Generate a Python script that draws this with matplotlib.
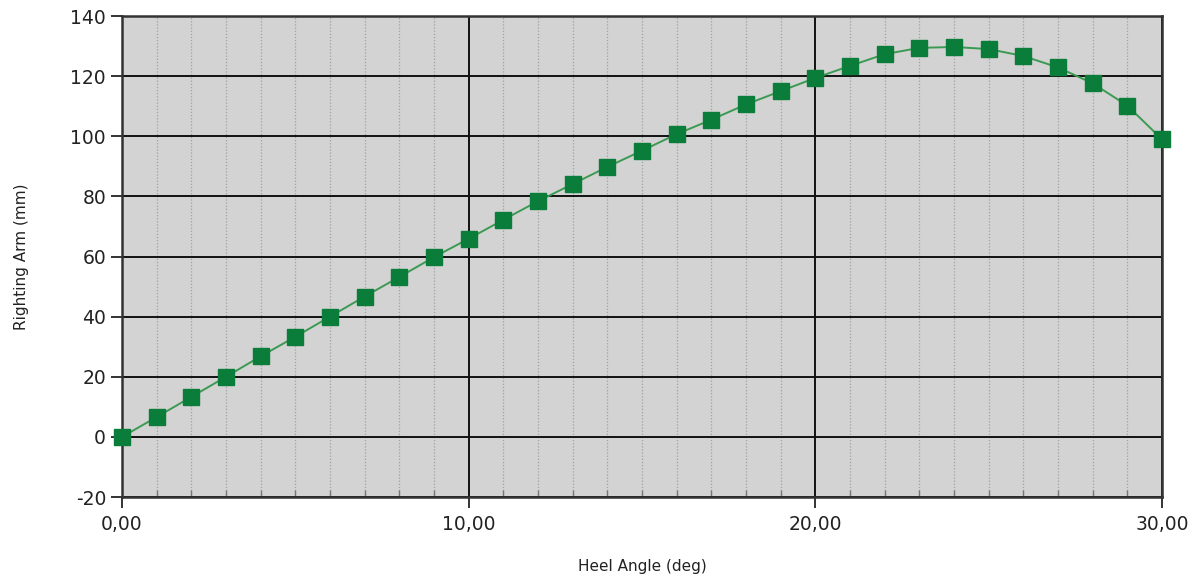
import matplotlib
matplotlib.use("Agg")
import matplotlib.pyplot as plt
from matplotlib.ticker import MultipleLocator, FuncFormatter

plt.rcParams["axes.unicode_minus"] = False

heel_angle = [0, 1, 2, 3, 4, 5, 6, 7, 8, 9, 10, 11, 12, 13, 14, 15, 16, 17, 18, 19, 20,
              21, 22, 23, 24, 25, 26, 27, 28, 29, 30]
righting_arm = [0.0, 6.6, 13.3, 20.0, 26.8, 33.3, 40.0, 46.7, 53.2, 59.8, 65.9, 72.2,
                78.4, 84.1, 89.8, 95.2, 100.7, 105.5, 110.6, 115.0, 119.4, 123.4, 127.3,
                129.4, 129.7, 129.0, 126.7, 122.9, 117.6, 110.2, 99.0]

fig = plt.figure(figsize=(12.03, 5.82), dpi=100)
ax = fig.add_axes([0.1014, 0.146, 0.8645, 0.8265])
ax.set_facecolor("#d3d3d3")

ax.set_xlim(0, 30)
ax.set_ylim(-20, 140)
ax.xaxis.set_major_locator(MultipleLocator(10))
ax.xaxis.set_minor_locator(MultipleLocator(1))
ax.yaxis.set_major_locator(MultipleLocator(20))
ax.xaxis.set_major_formatter(FuncFormatter(lambda v, p: f"{v:.2f}".replace(".", ",")))

ax.grid(which="major", color="#111111", linewidth=1.4, zorder=1)
ax.grid(which="minor", axis="x", color="#a0a0a0", linestyle=(0, (1, 1.5)), linewidth=0.9, zorder=1)
ax.set_axisbelow(True)

ax.plot(heel_angle, righting_arm, color="#3b9a52", linewidth=1.4, marker="s",
        markersize=11.5, markerfacecolor="#0a7d3a", markeredgecolor="#0a7d3a",
        clip_on=False, zorder=3)

for s in ax.spines.values():
    s.set_color("#333333")
    s.set_linewidth(1.8)

ax.tick_params(axis="both", which="major", length=8, width=1.4, color="#333333",
               labelsize=13.5, labelcolor="#222222", direction="out")
ax.tick_params(axis="x", which="minor", length=5, width=1.0, color="#777777", direction="in")
ax.tick_params(axis="x", which="major", pad=5)

ax.set_xlabel("Heel Angle (deg)", fontsize=11, color="#222222", labelpad=18)
ax.set_ylabel("Righting Arm (mm)", fontsize=11, color="#222222", labelpad=30)

fig.savefig("out.png", dpi=100)
